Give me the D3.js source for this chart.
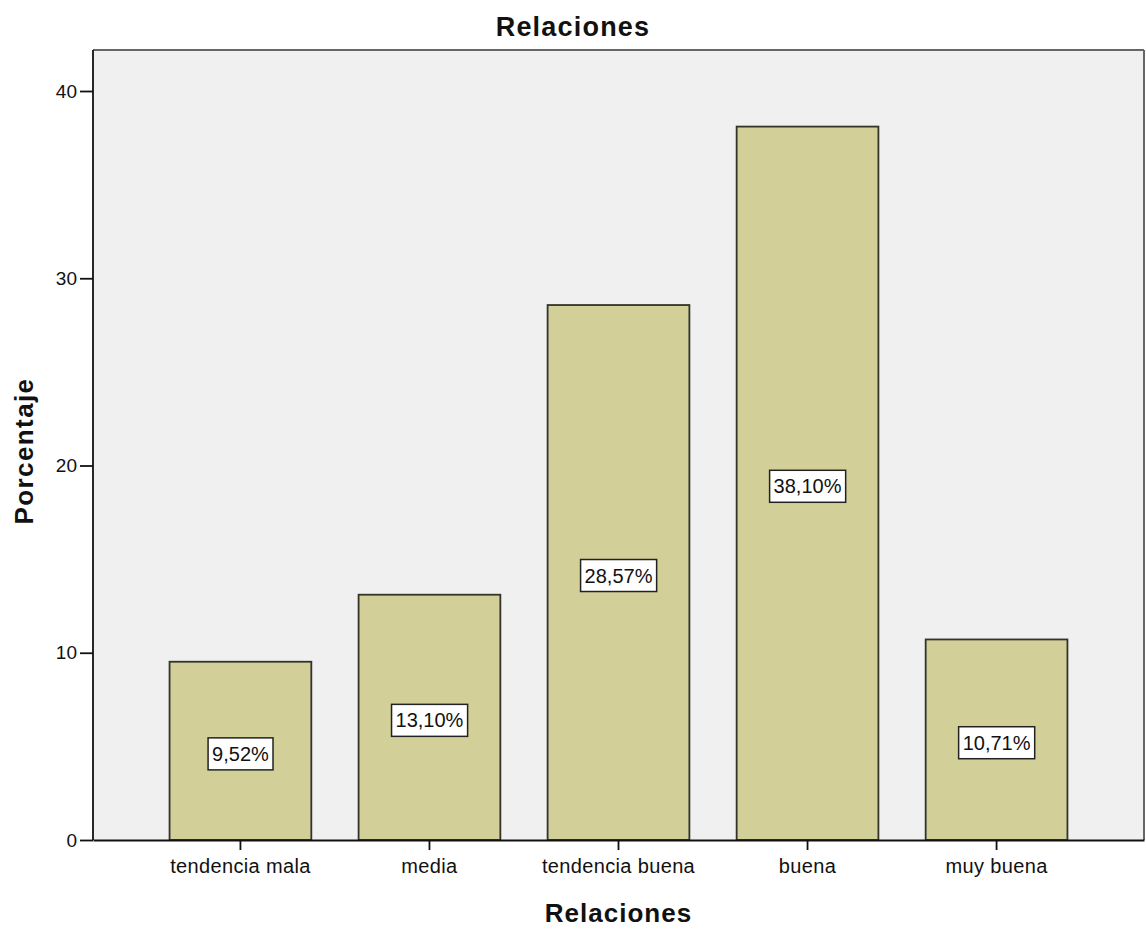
<!DOCTYPE html>
<html><head><meta charset="utf-8">
<script src="https://cdn.jsdelivr.net/npm/d3@7"></script>
<style>body{margin:0;background:#fff}svg{display:block}text{font-family:Arial,"Liberation Sans",sans-serif}</style>
</head><body>
<svg id="c" width="1146" height="931"></svg>
<script>
const categories = ["tendencia mala","media","tendencia buena","buena","muy buena"];
const values = [9.52, 13.10, 28.57, 38.10, 10.71];
const valueLabels = ["9,52%","13,10%","28,57%","38,10%","10,71%"];
const yTicks = [0,10,20,30,40];
const title = "Relaciones", xTitle = "Relaciones", yTitle = "Porcentaje";

const svg = d3.select("#c");
const L=93, R=1144, T=50, B=840;
const y = d3.scaleLinear().domain([0,42.19]).range([B,T]);
const x = d3.scaleBand().domain(categories).range([L,R]).paddingInner(0.25).paddingOuter(0.405);

svg.append("rect").attr("x",L).attr("y",T).attr("width",R-L).attr("height",B-T).attr("fill","#f0f0f0");
svg.append("line").attr("x1",L).attr("x2",R).attr("y1",T).attr("y2",T).attr("stroke","#666").attr("stroke-width",2);
svg.append("line").attr("x1",R).attr("x2",R).attr("y1",T).attr("y2",B).attr("stroke","#666").attr("stroke-width",2);

svg.selectAll("rect.bar").data(values).join("rect").attr("class","bar")
  .attr("x",(d,i)=>x(categories[i])).attr("width",x.bandwidth())
  .attr("y",d=>y(d)).attr("height",d=>B-y(d))
  .attr("fill","#d2cf98").attr("stroke","#33332a").attr("stroke-width",1.8);

const yAxis = svg.append("g").attr("transform",`translate(${L},0)`)
  .call(d3.axisLeft(y).tickValues(yTicks).tickSize(13).tickPadding(3));
const xAxis = svg.append("g").attr("transform",`translate(0,${B})`)
  .call(d3.axisBottom(x).tickSize(10).tickPadding(9).tickSizeOuter(0));
[yAxis,xAxis].forEach(g=>{
  g.select(".domain").attr("stroke","#111").attr("stroke-width",1.8);
  g.selectAll(".tick line").attr("stroke","#111").attr("stroke-width",1.8);
  g.selectAll(".tick text").attr("fill","#111").style("font-family","Arial,'Liberation Sans',sans-serif");
});
yAxis.selectAll(".tick text").style("font-size","19px");
xAxis.selectAll(".tick text").style("font-size","20px").style("letter-spacing","0.35px");
yAxis.select(".domain").attr("d",`M0,${T}V${B}`);

// value labels
const lg = svg.selectAll("g.vl").data(values).join("g").attr("class","vl")
  .attr("transform",(d,i)=>`translate(${x(categories[i])+x.bandwidth()/2},${y(d/2)+3})`);
lg.append("text").attr("text-anchor","middle").attr("dy","0.35em").style("font-size","20px").attr("fill","#111")
  .text((d,i)=>valueLabels[i]);
lg.each(function(){
  const g=d3.select(this), bb=g.select("text").node().getBBox();
  g.insert("rect","text").attr("x",bb.x-4).attr("y",bb.y-5).attr("width",bb.width+8).attr("height",bb.height+10)
   .attr("fill","#fff").attr("stroke","#222").attr("stroke-width",1.5);
});

svg.append("text").attr("x",573).attr("y",36).attr("text-anchor","middle").style("font-size","27px").style("letter-spacing","1.2px").style("font-weight","bold").attr("fill","#111").text(title);
svg.append("text").attr("x",(L+R)/2).attr("y",922).attr("text-anchor","middle").style("font-size","26px").style("letter-spacing","1px").style("font-weight","bold").attr("fill","#111").text(xTitle);
svg.append("text").attr("transform",`translate(33,451) rotate(-90)`).attr("text-anchor","middle").style("font-size","26px").style("letter-spacing","1.4px").style("font-weight","bold").attr("fill","#111").text(yTitle);
</script>
</body></html>
